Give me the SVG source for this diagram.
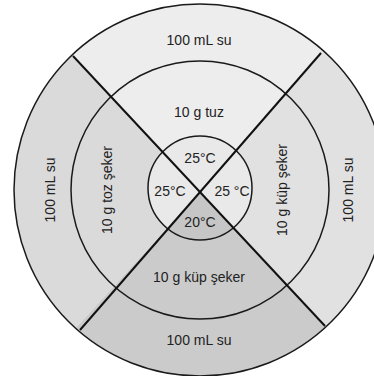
<svg xmlns="http://www.w3.org/2000/svg" width="374" height="376" viewBox="0 0 374 376">
<style>
text{font-family:"Liberation Sans",Arial,sans-serif;font-size:14px;fill:#222;text-anchor:middle;dominant-baseline:central}
.c{fill:none;stroke:#1a1a1a;stroke-width:1.5}
.d{stroke:#111;stroke-width:2}
</style>
<defs>
<clipPath id="outer"><circle cx="200" cy="190" r="186"/></clipPath>
<clipPath id="inner"><circle cx="200" cy="188" r="52"/></clipPath>
</defs>
<rect width="374" height="376" fill="#ffffff"/>
<g id="sectors" clip-path="url(#outer)">
<polygon id="top" points="200,192 -60,-86 450,-100" fill="#ededed"/>
<polygon id="left" points="200,192 -60,-86 -100,520" fill="#dadada"/>
<polygon id="right" points="200,192 450,-100 480,490" fill="#e1e1e1"/>
<polygon id="bottom" points="200,192 -100,520 480,490" fill="#cbcbcb"/>
</g>
<g id="center" clip-path="url(#inner)">
<rect x="140" y="130" width="120" height="120" fill="#e9e9e9"/>
<polygon points="200,192 -100,520 480,490" fill="#c6c6c6"/>
</g>
<g id="rings">
<circle class="c" cx="200" cy="190" r="186"/>
<circle class="c" cx="200" cy="190" r="129"/>
<circle class="c" cx="200" cy="188" r="52"/>
</g>
<g id="connectors">
<line class="d" x1="73" y1="56" x2="325" y2="326"/>
<line class="d" x1="321" y1="53" x2="80" y2="330"/>
</g>
<g id="labels">
<text x="199" y="40">100 mL su</text>
<text x="199" y="112">10 g tuz</text>
<text x="200" y="158">25°C</text>
<text x="170" y="191">25°C</text>
<text x="232" y="191">25 °C</text>
<text x="200" y="222">20°C</text>
<text x="199" y="277">10 g küp şeker</text>
<text x="199" y="340">100 mL su</text>
<text transform="translate(50,190) rotate(-90)">100 mL su</text>
<text transform="translate(107,190) rotate(-90)">10 g toz şeker</text>
<text transform="translate(282,190) rotate(-90)">10 g küp şeker</text>
<text transform="translate(348,190) rotate(-90)">100 mL su</text>
</g>
</svg>
